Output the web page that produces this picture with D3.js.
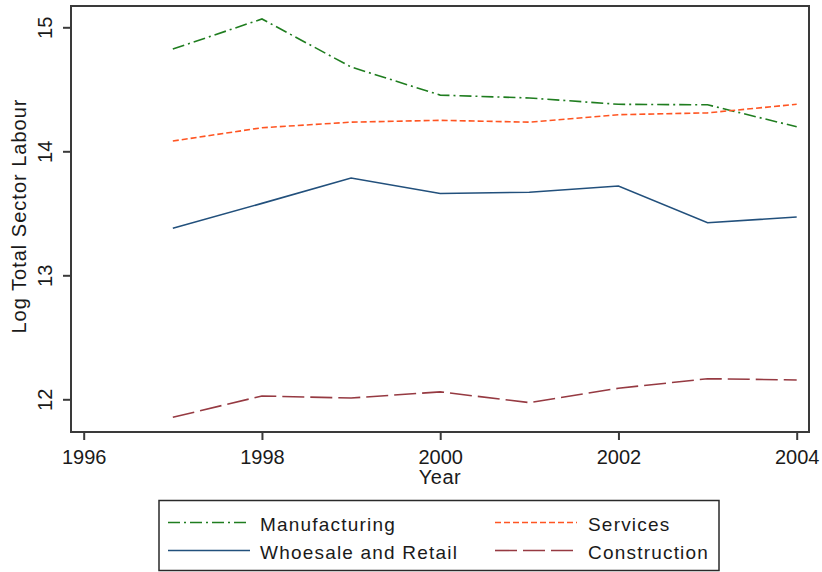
<!DOCTYPE html>
<html>
<head>
<meta charset="utf-8">
<script src="https://cdn.jsdelivr.net/npm/d3@7"></script>
<style>
  html, body { margin: 0; padding: 0; background: #fff; }
  svg { display: block; }
  text { font-family: "Liberation Sans", Arial, sans-serif; fill: #1a1a1a; }
</style>
</head>
<body>
<svg id="chart" width="822" height="572"></svg>
<script>
// Log total labour by sector, 1997-2004
const years = [1997, 1998, 1999, 2000, 2001, 2002, 2003, 2004];
const manufacturing = [14.825, 15.067, 14.68, 14.453, 14.43, 14.379, 14.375, 14.198];
const services      = [14.083, 14.19, 14.235, 14.25, 14.235, 14.295, 14.31, 14.379];
const wholesale     = [13.379, 13.58, 13.785, 13.66, 13.67, 13.72, 13.424, 13.47];
const construction  = [11.855, 12.027, 12.01, 12.06, 11.973, 12.089, 12.166, 12.156];

const xTicks = [1996, 1998, 2000, 2002, 2004];
const yTicks = [12, 13, 14, 15];

const seriesNames  = ["Manufacturing", "Services", "Whoesale and Retail", "Construction"];
const seriesColors = ["#1f7d1f", "#ff5522", "#22507c", "#963a42"];
const seriesDashes = ["12,4,2,4", "6,3", null, "22,6"];

const seriesValues = [manufacturing, services, wholesale, construction];

const svg = d3.select("#chart");

// plot frame
const frame = { left: 71, right: 809, top: 6, bottom: 432 };

const x = d3.scaleLinear().domain([1996, 2004]).range([83.7, 796.7]);
const y = d3.scaleLinear().domain([12, 15]).range([399.3, 27.3]);

svg.append("rect")
  .attr("x", frame.left).attr("y", frame.top)
  .attr("width", frame.right - frame.left)
  .attr("height", frame.bottom - frame.top)
  .attr("fill", "#fff")
  .attr("stroke", "#3a3a3a")
  .attr("stroke-width", 2);

// x axis ticks and labels
const xAxis = d3.axisBottom(x).tickValues(xTicks).tickSize(8).tickSizeOuter(0).tickFormat(d3.format("d"));
const gx = svg.append("g").attr("transform", `translate(0,${frame.bottom})`).call(xAxis);
gx.select(".domain").remove();
gx.selectAll(".tick line").attr("stroke", "#3a3a3a").attr("stroke-width", 2);
gx.selectAll(".tick text")
  .attr("y", 32).attr("dy", 0)
  .style("font-family", "'Liberation Sans', Arial, sans-serif")
  .style("font-size", "20px")
  .attr("fill", "#1a1a1a");

// y axis ticks and rotated labels
const yAxis = d3.axisLeft(y).tickValues(yTicks).tickSize(8).tickSizeOuter(0).tickFormat(d3.format("d"));
const gy = svg.append("g").attr("transform", `translate(${frame.left},0)`).call(yAxis);
gy.select(".domain").remove();
gy.selectAll(".tick line").attr("stroke", "#3a3a3a").attr("stroke-width", 2);
gy.selectAll(".tick text")
  .attr("x", null).attr("dy", null)
  .attr("text-anchor", "middle")
  .attr("transform", "translate(-19,0) rotate(-90)")
  .style("font-family", "'Liberation Sans', Arial, sans-serif")
  .style("font-size", "20px")
  .attr("fill", "#1a1a1a");

// axis titles
svg.append("text")
  .attr("x", (frame.left + frame.right) / 2)
  .attr("y", 484)
  .attr("text-anchor", "middle")
  .style("font-size", "20px")
  .style("letter-spacing", "0.5px")
  .text("Year");

svg.append("text")
  .attr("transform", `translate(26,${(frame.top + frame.bottom) / 2 - 3}) rotate(-90)`)
  .attr("text-anchor", "middle")
  .style("font-size", "20px")
  .style("letter-spacing", "1px")
  .text("Log Total Sector Labour");

// series lines
const line = d3.line().x(d => x(d[0])).y(d => y(d[1]));
seriesValues.forEach((vals, i) => {
  svg.append("path")
    .datum(years.map((yr, j) => [yr, vals[j]]))
    .attr("d", line)
    .attr("fill", "none")
    .attr("stroke", seriesColors[i])
    .attr("stroke-width", 1.6)
    .attr("stroke-dasharray", seriesDashes[i]);
});

// legend
const legend = svg.append("g");
legend.append("rect")
  .attr("x", 159).attr("y", 500.5)
  .attr("width", 560).attr("height", 70)
  .attr("fill", "#fff")
  .attr("stroke", "#2a2a2a")
  .attr("stroke-width", 1.5);

const legendPos = [
  { sx: 168, tx: 260, ry: 522.5 },
  { sx: 495, tx: 588, ry: 522.5 },
  { sx: 168, tx: 260, ry: 550.5 },
  { sx: 495, tx: 588, ry: 550.5 }
];
seriesNames.forEach((name, i) => {
  const p = legendPos[i];
  legend.append("line")
    .attr("x1", p.sx).attr("x2", p.sx + 82)
    .attr("y1", p.ry).attr("y2", p.ry)
    .attr("stroke", seriesColors[i])
    .attr("stroke-width", 1.6)
    .attr("stroke-dasharray", seriesDashes[i]);
  legend.append("text")
    .attr("x", p.tx).attr("y", p.ry + 8)
    .style("font-size", "19px")
    .style("letter-spacing", "1.2px")
    .text(name);
});
</script>
</body>
</html>
